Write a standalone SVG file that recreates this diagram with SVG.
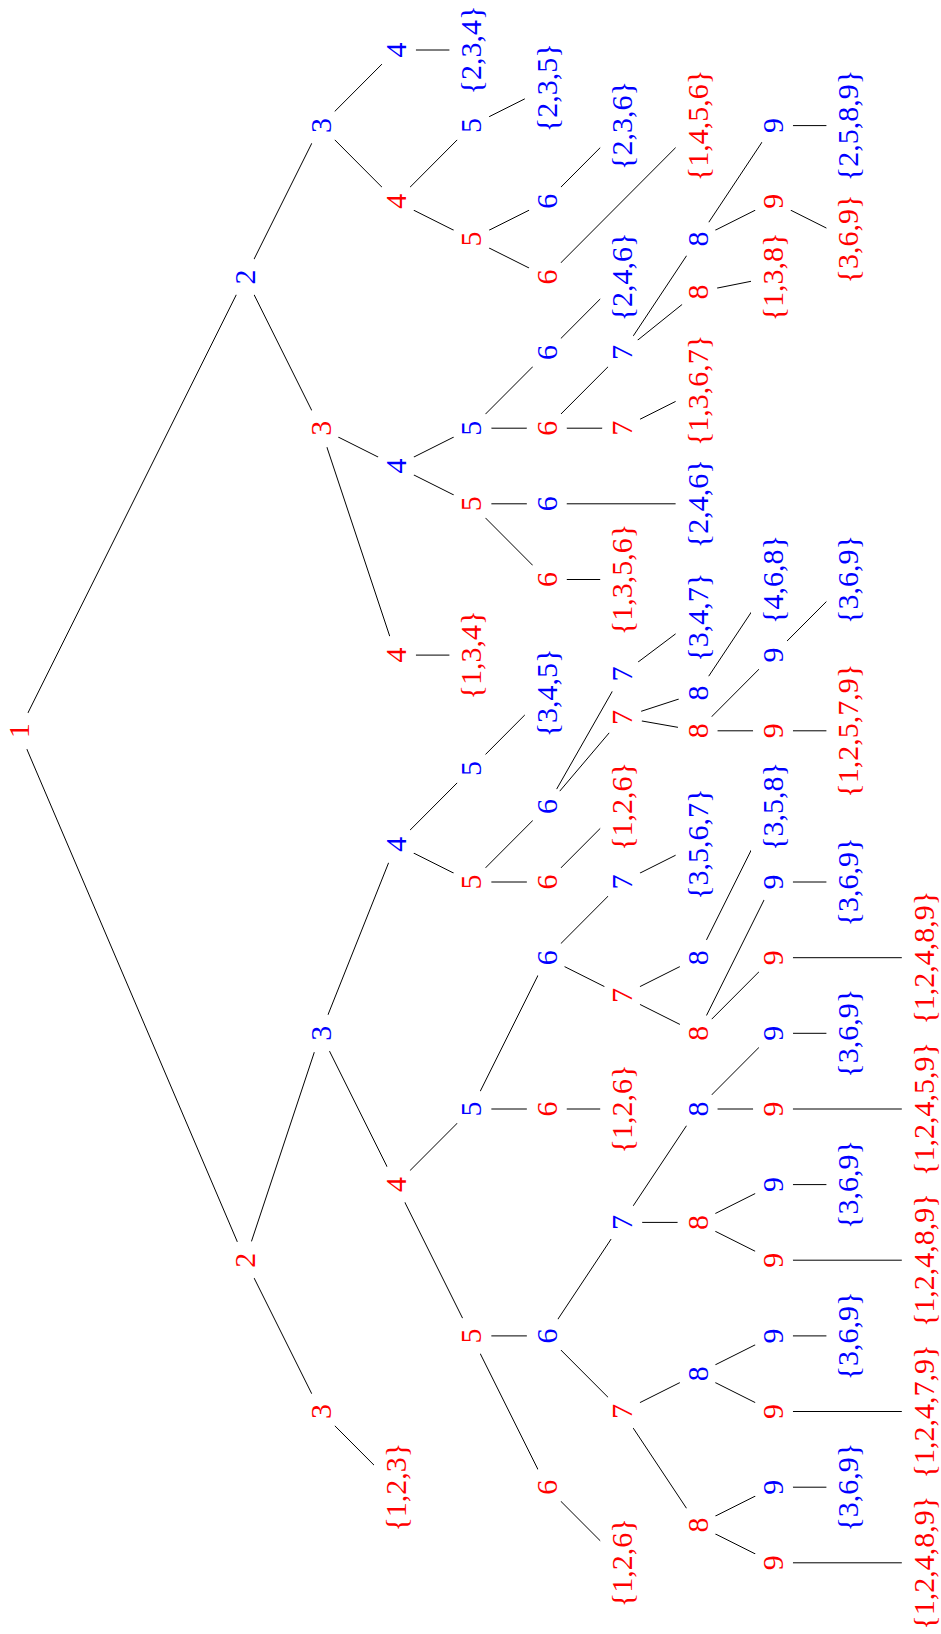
<svg xmlns="http://www.w3.org/2000/svg" xmlns:xlink="http://www.w3.org/1999/xlink" width="941" height="1634" viewBox="0 0 941 1634">
<style>
.t{font-family:'Liberation Serif','Times New Roman',serif;font-size:30px;text-anchor:middle}
.r{fill:#ff0000}.b{fill:#0000ff}
#edges line{stroke:#000;stroke-width:1}
</style>
<defs>
<circle id="mc" r="20" fill="#fff"/>
<rect id="m3" x="-22" y="-47" width="40" height="94" fill="#fff"/>
<rect id="m4" x="-22" y="-58.5" width="40" height="117" fill="#fff"/>
<rect id="m5" x="-22" y="-70" width="40" height="140" fill="#fff"/>
</defs>
<rect width="941" height="1634" fill="#fff"/>
<g id="edges">
<line x1="19" y1="730.8" x2="245.2" y2="276.9"/>
<line x1="19" y1="730.8" x2="245.2" y2="1260.2"/>
<line x1="245.2" y1="276.9" x2="320.6" y2="125.6"/>
<line x1="245.2" y1="276.9" x2="320.6" y2="428.2"/>
<line x1="320.6" y1="125.6" x2="396" y2="50"/>
<line x1="320.6" y1="125.6" x2="396" y2="201.3"/>
<line x1="396" y1="50" x2="471.4" y2="50"/>
<line x1="396" y1="201.3" x2="471.4" y2="125.6"/>
<line x1="396" y1="201.3" x2="471.4" y2="239.1"/>
<line x1="471.4" y1="125.6" x2="546.8" y2="87.8"/>
<line x1="471.4" y1="239.1" x2="546.8" y2="201.3"/>
<line x1="471.4" y1="239.1" x2="546.8" y2="276.9"/>
<line x1="546.8" y1="201.3" x2="622.2" y2="125.6"/>
<line x1="546.8" y1="276.9" x2="697.6" y2="125.6"/>
<line x1="320.6" y1="428.2" x2="396" y2="466"/>
<line x1="320.6" y1="428.2" x2="396" y2="655.1"/>
<line x1="396" y1="655.1" x2="471.4" y2="655.1"/>
<line x1="396" y1="466" x2="471.4" y2="428.2"/>
<line x1="396" y1="466" x2="471.4" y2="503.8"/>
<line x1="471.4" y1="428.2" x2="546.8" y2="352.6"/>
<line x1="471.4" y1="428.2" x2="546.8" y2="428.2"/>
<line x1="546.8" y1="352.6" x2="622.2" y2="276.9"/>
<line x1="546.8" y1="428.2" x2="622.2" y2="352.6"/>
<line x1="546.8" y1="428.2" x2="622.2" y2="428.2"/>
<line x1="622.2" y1="352.6" x2="697.6" y2="239.1"/>
<line x1="622.2" y1="352.6" x2="697.6" y2="292"/>
<line x1="697.6" y1="239.1" x2="773" y2="125.6"/>
<line x1="697.6" y1="239.1" x2="773" y2="201.3"/>
<line x1="773" y1="125.6" x2="848.4" y2="125.6"/>
<line x1="773" y1="201.3" x2="848.4" y2="239.1"/>
<line x1="697.6" y1="292" x2="773" y2="276.9"/>
<line x1="622.2" y1="428.2" x2="697.6" y2="390.4"/>
<line x1="471.4" y1="503.8" x2="546.8" y2="503.8"/>
<line x1="471.4" y1="503.8" x2="546.8" y2="579.5"/>
<line x1="546.8" y1="503.8" x2="697.6" y2="503.8"/>
<line x1="546.8" y1="579.5" x2="622.2" y2="579.5"/>
<line x1="245.2" y1="1260.2" x2="320.6" y2="1033.3"/>
<line x1="245.2" y1="1260.2" x2="320.6" y2="1411.5"/>
<line x1="320.6" y1="1411.5" x2="396" y2="1487.2"/>
<line x1="320.6" y1="1033.3" x2="396" y2="844.2"/>
<line x1="320.6" y1="1033.3" x2="396" y2="1184.6"/>
<line x1="396" y1="844.2" x2="471.4" y2="768.6"/>
<line x1="396" y1="844.2" x2="471.4" y2="882"/>
<line x1="471.4" y1="768.6" x2="546.8" y2="692.9"/>
<line x1="471.4" y1="882" x2="546.8" y2="806.4"/>
<line x1="471.4" y1="882" x2="546.8" y2="882"/>
<line x1="546.8" y1="806.4" x2="622.2" y2="674"/>
<line x1="546.8" y1="806.4" x2="622.2" y2="717.5"/>
<line x1="622.2" y1="674" x2="697.6" y2="617.3"/>
<line x1="622.2" y1="717.5" x2="697.6" y2="692.9"/>
<line x1="622.2" y1="717.5" x2="697.6" y2="730.8"/>
<line x1="697.6" y1="692.9" x2="773" y2="579.5"/>
<line x1="697.6" y1="730.8" x2="773" y2="655.1"/>
<line x1="697.6" y1="730.8" x2="773" y2="730.8"/>
<line x1="773" y1="655.1" x2="848.4" y2="579.5"/>
<line x1="773" y1="730.8" x2="848.4" y2="730.8"/>
<line x1="546.8" y1="882" x2="622.2" y2="806.4"/>
<line x1="396" y1="1184.6" x2="471.4" y2="1109"/>
<line x1="396" y1="1184.6" x2="471.4" y2="1335.9"/>
<line x1="471.4" y1="1109" x2="546.8" y2="957.7"/>
<line x1="471.4" y1="1109" x2="546.8" y2="1109"/>
<line x1="546.8" y1="957.7" x2="622.2" y2="882"/>
<line x1="546.8" y1="957.7" x2="622.2" y2="995.5"/>
<line x1="622.2" y1="882" x2="697.6" y2="844.2"/>
<line x1="622.2" y1="995.5" x2="697.6" y2="957.7"/>
<line x1="622.2" y1="995.5" x2="697.6" y2="1033.3"/>
<line x1="697.6" y1="957.7" x2="773" y2="806.4"/>
<line x1="697.6" y1="1033.3" x2="773" y2="882"/>
<line x1="697.6" y1="1033.3" x2="773" y2="957.7"/>
<line x1="773" y1="882" x2="848.4" y2="882"/>
<line x1="773" y1="957.7" x2="923.8" y2="957.7"/>
<line x1="546.8" y1="1109" x2="622.2" y2="1109"/>
<line x1="471.4" y1="1335.9" x2="546.8" y2="1335.9"/>
<line x1="471.4" y1="1335.9" x2="546.8" y2="1487.2"/>
<line x1="546.8" y1="1335.9" x2="622.2" y2="1222.4"/>
<line x1="546.8" y1="1335.9" x2="622.2" y2="1411.5"/>
<line x1="622.2" y1="1222.4" x2="697.6" y2="1109"/>
<line x1="622.2" y1="1222.4" x2="697.6" y2="1222.4"/>
<line x1="697.6" y1="1109" x2="773" y2="1033.3"/>
<line x1="697.6" y1="1109" x2="773" y2="1109"/>
<line x1="773" y1="1033.3" x2="848.4" y2="1033.3"/>
<line x1="773" y1="1109" x2="923.8" y2="1109"/>
<line x1="697.6" y1="1222.4" x2="773" y2="1184.6"/>
<line x1="697.6" y1="1222.4" x2="773" y2="1260.2"/>
<line x1="773" y1="1184.6" x2="848.4" y2="1184.6"/>
<line x1="773" y1="1260.2" x2="923.8" y2="1260.2"/>
<line x1="622.2" y1="1411.5" x2="697.6" y2="1373.7"/>
<line x1="622.2" y1="1411.5" x2="697.6" y2="1525"/>
<line x1="697.6" y1="1373.7" x2="773" y2="1335.9"/>
<line x1="697.6" y1="1373.7" x2="773" y2="1411.5"/>
<line x1="773" y1="1335.9" x2="848.4" y2="1335.9"/>
<line x1="773" y1="1411.5" x2="923.8" y2="1411.5"/>
<line x1="697.6" y1="1525" x2="773" y2="1487.2"/>
<line x1="697.6" y1="1525" x2="773" y2="1562.8"/>
<line x1="773" y1="1487.2" x2="848.4" y2="1487.2"/>
<line x1="773" y1="1562.8" x2="923.8" y2="1562.8"/>
<line x1="546.8" y1="1487.2" x2="622.2" y2="1562.8"/>
</g>
<g id="nodes">
<g id="n1"><use xlink:href="#mc" x="19" y="730.8"/><text class="t r" transform="translate(19 730.8) rotate(-90)" y="10">1</text></g>
<g id="n2a"><use xlink:href="#mc" x="245.2" y="276.9"/><text class="t b" transform="translate(245.2 276.9) rotate(-90)" y="10">2</text></g>
<g id="n2b"><use xlink:href="#mc" x="245.2" y="1260.2"/><text class="t r" transform="translate(245.2 1260.2) rotate(-90)" y="10">2</text></g>
<g id="n3a"><use xlink:href="#mc" x="320.6" y="125.6"/><text class="t b" transform="translate(320.6 125.6) rotate(-90)" y="10">3</text></g>
<g id="n3b"><use xlink:href="#mc" x="320.6" y="428.2"/><text class="t r" transform="translate(320.6 428.2) rotate(-90)" y="10">3</text></g>
<g id="n3c"><use xlink:href="#mc" x="320.6" y="1033.3"/><text class="t b" transform="translate(320.6 1033.3) rotate(-90)" y="10">3</text></g>
<g id="n3d"><use xlink:href="#mc" x="320.6" y="1411.5"/><text class="t r" transform="translate(320.6 1411.5) rotate(-90)" y="10">3</text></g>
<g id="n4a"><use xlink:href="#mc" x="396" y="50"/><text class="t b" transform="translate(396 50) rotate(-90)" y="10">4</text></g>
<g id="n4b"><use xlink:href="#mc" x="396" y="201.3"/><text class="t r" transform="translate(396 201.3) rotate(-90)" y="10">4</text></g>
<g id="n4c"><use xlink:href="#mc" x="396" y="466"/><text class="t b" transform="translate(396 466) rotate(-90)" y="10">4</text></g>
<g id="n4d"><use xlink:href="#mc" x="396" y="655.1"/><text class="t r" transform="translate(396 655.1) rotate(-90)" y="10">4</text></g>
<g id="n4e"><use xlink:href="#mc" x="396" y="844.2"/><text class="t b" transform="translate(396 844.2) rotate(-90)" y="10">4</text></g>
<g id="n4f"><use xlink:href="#mc" x="396" y="1184.6"/><text class="t r" transform="translate(396 1184.6) rotate(-90)" y="10">4</text></g>
<g id="s123"><use xlink:href="#m3" x="396" y="1487.2"/><text class="t r" transform="translate(396 1487.2) rotate(-90)" y="10">{1,2,3}</text></g>
<g id="s234"><use xlink:href="#m3" x="471.4" y="50"/><text class="t b" transform="translate(471.4 50) rotate(-90)" y="10">{2,3,4}</text></g>
<g id="n5a"><use xlink:href="#mc" x="471.4" y="125.6"/><text class="t b" transform="translate(471.4 125.6) rotate(-90)" y="10">5</text></g>
<g id="n5b"><use xlink:href="#mc" x="471.4" y="239.1"/><text class="t r" transform="translate(471.4 239.1) rotate(-90)" y="10">5</text></g>
<g id="n5c"><use xlink:href="#mc" x="471.4" y="428.2"/><text class="t b" transform="translate(471.4 428.2) rotate(-90)" y="10">5</text></g>
<g id="n5d"><use xlink:href="#mc" x="471.4" y="503.8"/><text class="t r" transform="translate(471.4 503.8) rotate(-90)" y="10">5</text></g>
<g id="s134"><use xlink:href="#m3" x="471.4" y="655.1"/><text class="t r" transform="translate(471.4 655.1) rotate(-90)" y="10">{1,3,4}</text></g>
<g id="n5e"><use xlink:href="#mc" x="471.4" y="768.6"/><text class="t b" transform="translate(471.4 768.6) rotate(-90)" y="10">5</text></g>
<g id="n5f"><use xlink:href="#mc" x="471.4" y="882"/><text class="t r" transform="translate(471.4 882) rotate(-90)" y="10">5</text></g>
<g id="n5g"><use xlink:href="#mc" x="471.4" y="1109"/><text class="t b" transform="translate(471.4 1109) rotate(-90)" y="10">5</text></g>
<g id="n5h"><use xlink:href="#mc" x="471.4" y="1335.9"/><text class="t r" transform="translate(471.4 1335.9) rotate(-90)" y="10">5</text></g>
<g id="s235"><use xlink:href="#m3" x="546.8" y="87.8"/><text class="t b" transform="translate(546.8 87.8) rotate(-90)" y="10">{2,3,5}</text></g>
<g id="n6a"><use xlink:href="#mc" x="546.8" y="201.3"/><text class="t b" transform="translate(546.8 201.3) rotate(-90)" y="10">6</text></g>
<g id="n6b"><use xlink:href="#mc" x="546.8" y="276.9"/><text class="t r" transform="translate(546.8 276.9) rotate(-90)" y="10">6</text></g>
<g id="n6c"><use xlink:href="#mc" x="546.8" y="352.6"/><text class="t b" transform="translate(546.8 352.6) rotate(-90)" y="10">6</text></g>
<g id="n6d"><use xlink:href="#mc" x="546.8" y="428.2"/><text class="t r" transform="translate(546.8 428.2) rotate(-90)" y="10">6</text></g>
<g id="n6e"><use xlink:href="#mc" x="546.8" y="503.8"/><text class="t b" transform="translate(546.8 503.8) rotate(-90)" y="10">6</text></g>
<g id="n6f"><use xlink:href="#mc" x="546.8" y="579.5"/><text class="t r" transform="translate(546.8 579.5) rotate(-90)" y="10">6</text></g>
<g id="s345"><use xlink:href="#m3" x="546.8" y="692.9"/><text class="t b" transform="translate(546.8 692.9) rotate(-90)" y="10">{3,4,5}</text></g>
<g id="n6g"><use xlink:href="#mc" x="546.8" y="806.4"/><text class="t b" transform="translate(546.8 806.4) rotate(-90)" y="10">6</text></g>
<g id="n6h"><use xlink:href="#mc" x="546.8" y="882"/><text class="t r" transform="translate(546.8 882) rotate(-90)" y="10">6</text></g>
<g id="n6i"><use xlink:href="#mc" x="546.8" y="957.7"/><text class="t b" transform="translate(546.8 957.7) rotate(-90)" y="10">6</text></g>
<g id="n6j"><use xlink:href="#mc" x="546.8" y="1109"/><text class="t r" transform="translate(546.8 1109) rotate(-90)" y="10">6</text></g>
<g id="n6k"><use xlink:href="#mc" x="546.8" y="1335.9"/><text class="t b" transform="translate(546.8 1335.9) rotate(-90)" y="10">6</text></g>
<g id="n6l"><use xlink:href="#mc" x="546.8" y="1487.2"/><text class="t r" transform="translate(546.8 1487.2) rotate(-90)" y="10">6</text></g>
<g id="s236"><use xlink:href="#m3" x="622.2" y="125.6"/><text class="t b" transform="translate(622.2 125.6) rotate(-90)" y="10">{2,3,6}</text></g>
<g id="s246a"><use xlink:href="#m3" x="622.2" y="276.9"/><text class="t b" transform="translate(622.2 276.9) rotate(-90)" y="10">{2,4,6}</text></g>
<g id="n7a"><use xlink:href="#mc" x="622.2" y="352.6"/><text class="t b" transform="translate(622.2 352.6) rotate(-90)" y="10">7</text></g>
<g id="n7b"><use xlink:href="#mc" x="622.2" y="428.2"/><text class="t r" transform="translate(622.2 428.2) rotate(-90)" y="10">7</text></g>
<g id="s1356"><use xlink:href="#m4" x="622.2" y="579.5"/><text class="t r" transform="translate(622.2 579.5) rotate(-90)" y="10">{1,3,5,6}</text></g>
<g id="n7c"><use xlink:href="#mc" x="622.2" y="674"/><text class="t b" transform="translate(622.2 674) rotate(-90)" y="10">7</text></g>
<g id="n7d"><use xlink:href="#mc" x="622.2" y="717.5"/><text class="t r" transform="translate(622.2 717.5) rotate(-90)" y="10">7</text></g>
<g id="s126a"><use xlink:href="#m3" x="622.2" y="806.4"/><text class="t r" transform="translate(622.2 806.4) rotate(-90)" y="10">{1,2,6}</text></g>
<g id="n7e"><use xlink:href="#mc" x="622.2" y="882"/><text class="t b" transform="translate(622.2 882) rotate(-90)" y="10">7</text></g>
<g id="n7f"><use xlink:href="#mc" x="622.2" y="995.5"/><text class="t r" transform="translate(622.2 995.5) rotate(-90)" y="10">7</text></g>
<g id="s126b"><use xlink:href="#m3" x="622.2" y="1109"/><text class="t r" transform="translate(622.2 1109) rotate(-90)" y="10">{1,2,6}</text></g>
<g id="n7g"><use xlink:href="#mc" x="622.2" y="1222.4"/><text class="t b" transform="translate(622.2 1222.4) rotate(-90)" y="10">7</text></g>
<g id="n7h"><use xlink:href="#mc" x="622.2" y="1411.5"/><text class="t r" transform="translate(622.2 1411.5) rotate(-90)" y="10">7</text></g>
<g id="s126c"><use xlink:href="#m3" x="622.2" y="1562.8"/><text class="t r" transform="translate(622.2 1562.8) rotate(-90)" y="10">{1,2,6}</text></g>
<g id="s1456"><use xlink:href="#m4" x="697.6" y="125.6"/><text class="t r" transform="translate(697.6 125.6) rotate(-90)" y="10">{1,4,5,6}</text></g>
<g id="n8a"><use xlink:href="#mc" x="697.6" y="239.1"/><text class="t b" transform="translate(697.6 239.1) rotate(-90)" y="10">8</text></g>
<g id="n8b"><use xlink:href="#mc" x="697.6" y="292"/><text class="t r" transform="translate(697.6 292) rotate(-90)" y="10">8</text></g>
<g id="s1367"><use xlink:href="#m4" x="697.6" y="390.4"/><text class="t r" transform="translate(697.6 390.4) rotate(-90)" y="10">{1,3,6,7}</text></g>
<g id="s246b"><use xlink:href="#m3" x="697.6" y="503.8"/><text class="t b" transform="translate(697.6 503.8) rotate(-90)" y="10">{2,4,6}</text></g>
<g id="s347"><use xlink:href="#m3" x="697.6" y="617.3"/><text class="t b" transform="translate(697.6 617.3) rotate(-90)" y="10">{3,4,7}</text></g>
<g id="n8c"><use xlink:href="#mc" x="697.6" y="692.9"/><text class="t b" transform="translate(697.6 692.9) rotate(-90)" y="10">8</text></g>
<g id="n8d"><use xlink:href="#mc" x="697.6" y="730.8"/><text class="t r" transform="translate(697.6 730.8) rotate(-90)" y="10">8</text></g>
<g id="s3567"><use xlink:href="#m4" x="697.6" y="844.2"/><text class="t b" transform="translate(697.6 844.2) rotate(-90)" y="10">{3,5,6,7}</text></g>
<g id="n8e"><use xlink:href="#mc" x="697.6" y="957.7"/><text class="t b" transform="translate(697.6 957.7) rotate(-90)" y="10">8</text></g>
<g id="n8f"><use xlink:href="#mc" x="697.6" y="1033.3"/><text class="t r" transform="translate(697.6 1033.3) rotate(-90)" y="10">8</text></g>
<g id="n8g"><use xlink:href="#mc" x="697.6" y="1109"/><text class="t b" transform="translate(697.6 1109) rotate(-90)" y="10">8</text></g>
<g id="n8h"><use xlink:href="#mc" x="697.6" y="1222.4"/><text class="t r" transform="translate(697.6 1222.4) rotate(-90)" y="10">8</text></g>
<g id="n8i"><use xlink:href="#mc" x="697.6" y="1373.7"/><text class="t b" transform="translate(697.6 1373.7) rotate(-90)" y="10">8</text></g>
<g id="n8j"><use xlink:href="#mc" x="697.6" y="1525"/><text class="t r" transform="translate(697.6 1525) rotate(-90)" y="10">8</text></g>
<g id="n9a"><use xlink:href="#mc" x="773" y="125.6"/><text class="t b" transform="translate(773 125.6) rotate(-90)" y="10">9</text></g>
<g id="n9b"><use xlink:href="#mc" x="773" y="201.3"/><text class="t r" transform="translate(773 201.3) rotate(-90)" y="10">9</text></g>
<g id="s138"><use xlink:href="#m3" x="773" y="276.9"/><text class="t r" transform="translate(773 276.9) rotate(-90)" y="10">{1,3,8}</text></g>
<g id="s468"><use xlink:href="#m3" x="773" y="579.5"/><text class="t b" transform="translate(773 579.5) rotate(-90)" y="10">{4,6,8}</text></g>
<g id="n9c"><use xlink:href="#mc" x="773" y="655.1"/><text class="t b" transform="translate(773 655.1) rotate(-90)" y="10">9</text></g>
<g id="n9d"><use xlink:href="#mc" x="773" y="730.8"/><text class="t r" transform="translate(773 730.8) rotate(-90)" y="10">9</text></g>
<g id="s358"><use xlink:href="#m3" x="773" y="806.4"/><text class="t b" transform="translate(773 806.4) rotate(-90)" y="10">{3,5,8}</text></g>
<g id="n9e"><use xlink:href="#mc" x="773" y="882"/><text class="t b" transform="translate(773 882) rotate(-90)" y="10">9</text></g>
<g id="n9f"><use xlink:href="#mc" x="773" y="957.7"/><text class="t r" transform="translate(773 957.7) rotate(-90)" y="10">9</text></g>
<g id="n9g"><use xlink:href="#mc" x="773" y="1033.3"/><text class="t b" transform="translate(773 1033.3) rotate(-90)" y="10">9</text></g>
<g id="n9h"><use xlink:href="#mc" x="773" y="1109"/><text class="t r" transform="translate(773 1109) rotate(-90)" y="10">9</text></g>
<g id="n9i"><use xlink:href="#mc" x="773" y="1184.6"/><text class="t b" transform="translate(773 1184.6) rotate(-90)" y="10">9</text></g>
<g id="n9j"><use xlink:href="#mc" x="773" y="1260.2"/><text class="t r" transform="translate(773 1260.2) rotate(-90)" y="10">9</text></g>
<g id="n9k"><use xlink:href="#mc" x="773" y="1335.9"/><text class="t b" transform="translate(773 1335.9) rotate(-90)" y="10">9</text></g>
<g id="n9l"><use xlink:href="#mc" x="773" y="1411.5"/><text class="t r" transform="translate(773 1411.5) rotate(-90)" y="10">9</text></g>
<g id="n9m"><use xlink:href="#mc" x="773" y="1487.2"/><text class="t b" transform="translate(773 1487.2) rotate(-90)" y="10">9</text></g>
<g id="n9n"><use xlink:href="#mc" x="773" y="1562.8"/><text class="t r" transform="translate(773 1562.8) rotate(-90)" y="10">9</text></g>
<g id="s2589"><use xlink:href="#m4" x="848.4" y="125.6"/><text class="t b" transform="translate(848.4 125.6) rotate(-90)" y="10">{2,5,8,9}</text></g>
<g id="s369a"><use xlink:href="#m3" x="848.4" y="239.1"/><text class="t r" transform="translate(848.4 239.1) rotate(-90)" y="10">{3,6,9}</text></g>
<g id="s369b"><use xlink:href="#m3" x="848.4" y="579.5"/><text class="t b" transform="translate(848.4 579.5) rotate(-90)" y="10">{3,6,9}</text></g>
<g id="s12579"><use xlink:href="#m5" x="848.4" y="730.8"/><text class="t r" transform="translate(848.4 730.8) rotate(-90)" y="10">{1,2,5,7,9}</text></g>
<g id="s369c"><use xlink:href="#m3" x="848.4" y="882"/><text class="t b" transform="translate(848.4 882) rotate(-90)" y="10">{3,6,9}</text></g>
<g id="s369d"><use xlink:href="#m3" x="848.4" y="1033.3"/><text class="t b" transform="translate(848.4 1033.3) rotate(-90)" y="10">{3,6,9}</text></g>
<g id="s369e"><use xlink:href="#m3" x="848.4" y="1184.6"/><text class="t b" transform="translate(848.4 1184.6) rotate(-90)" y="10">{3,6,9}</text></g>
<g id="s369f"><use xlink:href="#m3" x="848.4" y="1335.9"/><text class="t b" transform="translate(848.4 1335.9) rotate(-90)" y="10">{3,6,9}</text></g>
<g id="s369g"><use xlink:href="#m3" x="848.4" y="1487.2"/><text class="t b" transform="translate(848.4 1487.2) rotate(-90)" y="10">{3,6,9}</text></g>
<g id="s12489a"><use xlink:href="#m5" x="923.8" y="957.7"/><text class="t r" transform="translate(923.8 957.7) rotate(-90)" y="10">{1,2,4,8,9}</text></g>
<g id="s12459"><use xlink:href="#m5" x="923.8" y="1109"/><text class="t r" transform="translate(923.8 1109) rotate(-90)" y="10">{1,2,4,5,9}</text></g>
<g id="s12489b"><use xlink:href="#m5" x="923.8" y="1260.2"/><text class="t r" transform="translate(923.8 1260.2) rotate(-90)" y="10">{1,2,4,8,9}</text></g>
<g id="s12479"><use xlink:href="#m5" x="923.8" y="1411.5"/><text class="t r" transform="translate(923.8 1411.5) rotate(-90)" y="10">{1,2,4,7,9}</text></g>
<g id="s12489c"><use xlink:href="#m5" x="923.8" y="1562.8"/><text class="t r" transform="translate(923.8 1562.8) rotate(-90)" y="10">{1,2,4,8,9}</text></g>
</g>
</svg>
